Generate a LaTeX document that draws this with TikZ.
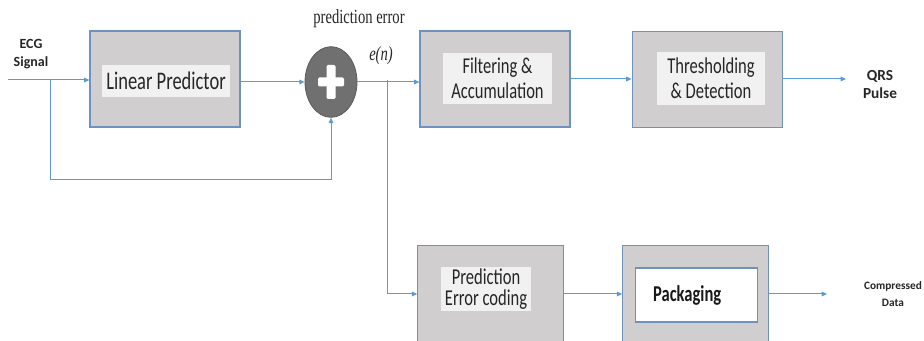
\documentclass[tikz,border=0pt]{standalone}
\usepackage{fontspec}
\setmainfont{Carlito}
\newfontfamily\condff[FakeStretch=0.73]{Carlito}
\newfontfamily\serifff[FakeStretch=0.73]{Liberation Serif}
\usetikzlibrary{arrows.meta,shapes.geometric,calc}
\definecolor{boxfill}{RGB}{208,206,206}
\definecolor{boxline}{RGB}{110,145,190}
\definecolor{innerfill}{RGB}{241,241,241}
\definecolor{arrowc}{RGB}{91,155,213}
\definecolor{sumfill}{RGB}{112,112,112}
\begin{document}
\begin{tikzpicture}[x=0.75pt,y=-0.75pt,
  outerbox/.style={draw=boxline,fill=boxfill,line width=0.9pt,inner sep=0pt},
  innerbox/.style={fill=innerfill,inner sep=0pt,align=center,text=black!85},
  conn/.style={draw=arrowc,line width=0.75pt},
  arr/.style={conn,-{Triangle[length=4pt,width=3.5pt]}},
  lbl/.style={align=center,text=black!85}]
\useasboundingbox (0,0) rectangle (924,341);
\clip (0,0) rectangle (924,341);
% top row
\node[outerbox,minimum width=112.5pt,minimum height=72pt] (lp) at (165,79) {};
\node[innerbox,minimum width=96pt,minimum height=24pt,font=\condff\fontsize{19}{21}\selectfont] (lpt) at (166,81) {Linear Predictor};
\node[ellipse,draw=sumfill!80!black,fill=sumfill,line width=0.6pt,minimum width=39pt,minimum height=53pt,inner sep=0pt] (sum) at (331,82) {};
\fill[white,rounded corners=1pt] ($(sum.center)+(-13,-4.5)$) rectangle ($(sum.center)+(13,4.5)$);
\fill[white,rounded corners=1pt] ($(sum.center)+(-4.5,-17)$) rectangle ($(sum.center)+(4.5,17)$);
\node[outerbox,minimum width=112.5pt,minimum height=72pt] (filt) at (495,79) {};
\node[innerbox,minimum width=82pt,minimum height=38pt,font=\condff\fontsize{17}{18.5}\selectfont] (filtt) at (497.5,78.5) {Filtering \&\\Accumulation};
\node[outerbox,minimum width=113pt,minimum height=72.5pt] (thr) at (707.5,79.5) {};
\node[innerbox,minimum width=81pt,minimum height=40pt,font=\condff\fontsize{17}{18.5}\selectfont] (thrt) at (711,78.5) {Thresholding\\\& Detection};
% bottom row
\node[outerbox,minimum width=109pt,minimum height=80pt] (pec) at (490.5,299) {};
\node[innerbox,minimum width=67.5pt,minimum height=33pt,font=\condff\fontsize{17}{15.5}\selectfont] (pect) at (486,289) {Prediction\\Error coding};
\node[outerbox,minimum width=109pt,minimum height=80pt] (pack) at (695.5,299) {};
\node[draw=boxline,fill=white,line width=0.9pt,inner sep=0pt,minimum width=92pt,minimum height=40.5pt,font=\condff\bfseries\fontsize{17}{19}\selectfont,text=black!90] (packt) at (696.5,295) {\hspace*{-14pt}Packaging};
% labels
\node[lbl,font=\bfseries\fontsize{10.5}{13.5}\selectfont] (ecg) at (31,54) {ECG\\Signal};
\node[lbl,font=\bfseries\fontsize{11.5}{13.5}\selectfont] (qrs) at (880,85) {QRS\\Pulse};
\node[lbl,font=\bfseries\fontsize{8.5}{12.75}\selectfont] (comp) at (893,294) {Compressed\\Data};
\node[font=\serifff\fontsize{15}{17}\selectfont,text=black!85] (pe) at (359,19) {prediction error};
\node[font=\serifff\itshape\fontsize{15}{17}\selectfont,text=black!85] (en) at (381,56) {e(\textit{n})};
% coordinates
\coordinate (in) at (8,80);
\coordinate (b1) at (50,80);
\coordinate (fb) at (331,180);
\coordinate (b2) at (387,80);
\coordinate (qout) at (846,79);
\coordinate (cout) at (827,294);
% connectors
\draw[arr] (in) -- (lp.west |- in);
\draw[conn] (b1) -- (b1 |- fb) -- (fb);
\draw[arr] (fb) -- (sum.south);
\draw[arr] (lp.east |- sum.west) -- (sum.west);
\draw[arr] (sum.east) -- (filt.west |- sum.east);
\draw[conn] (b2) -- (b2 |- cout);
\draw[arr] (b2 |- cout) -- (pec.west |- cout);
\draw[arr] (filt.east) -- (thr.west |- filt.east);
\draw[arr] (thr.east |- qout) -- (qout);
\draw[arr] (pec.east |- cout) -- (pack.west |- cout);
\draw[arr] (pack.east |- cout) -- (cout);
\end{tikzpicture}
\end{document}
